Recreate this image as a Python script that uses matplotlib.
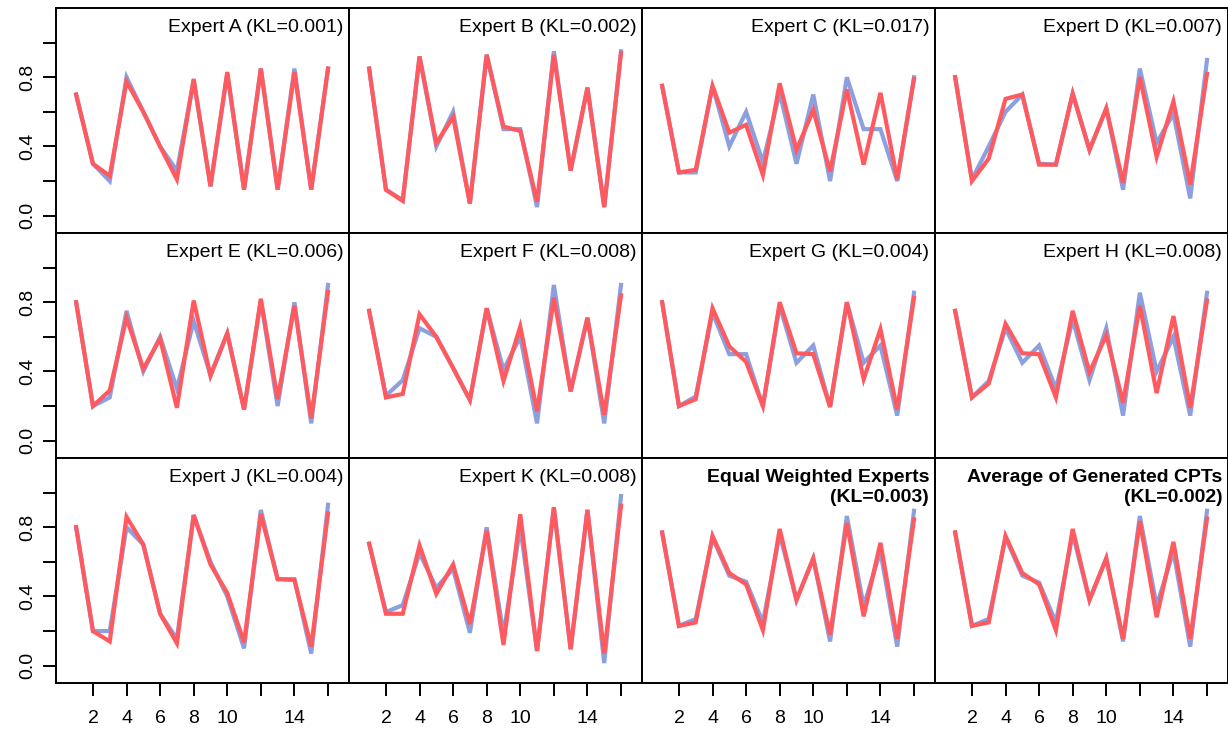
import matplotlib
matplotlib.use('Agg')
import matplotlib.pyplot as plt
import numpy as np

plt.rcParams['font.family'] = ['Liberation Sans', 'DejaVu Sans']

# CPT entries 1..16, expert value (blue) and generated value (red)
entries = np.arange(1, 17)

a_expert = [0.70, 0.30, 0.20, 0.80, 0.60, 0.40, 0.26, 0.78, 0.17, 0.82, 0.15, 0.85, 0.15, 0.85, 0.15, 0.85]
a_model = [0.70, 0.30, 0.23, 0.775, 0.60, 0.40, 0.21, 0.79, 0.17, 0.83, 0.15, 0.85, 0.15, 0.83, 0.15, 0.85]
b_expert = [0.85, 0.15, 0.09, 0.92, 0.40, 0.60, 0.07, 0.93, 0.50, 0.50, 0.05, 0.95, 0.26, 0.74, 0.05, 0.95]
b_model = [0.85, 0.15, 0.085, 0.92, 0.42, 0.57, 0.07, 0.93, 0.515, 0.49, 0.08, 0.93, 0.26, 0.74, 0.05, 0.94]
c_expert = [0.75, 0.25, 0.25, 0.75, 0.40, 0.60, 0.31, 0.71, 0.30, 0.70, 0.20, 0.80, 0.50, 0.50, 0.20, 0.80]
c_model = [0.75, 0.25, 0.265, 0.75, 0.48, 0.525, 0.235, 0.765, 0.38, 0.61, 0.255, 0.73, 0.295, 0.71, 0.21, 0.79]
d_expert = [0.80, 0.21, 0.40, 0.60, 0.70, 0.30, 0.295, 0.705, 0.38, 0.62, 0.15, 0.85, 0.42, 0.59, 0.10, 0.90]
d_model = [0.80, 0.20, 0.33, 0.675, 0.70, 0.295, 0.295, 0.705, 0.38, 0.62, 0.19, 0.80, 0.34, 0.66, 0.18, 0.82]
e_expert = [0.80, 0.20, 0.25, 0.75, 0.40, 0.60, 0.30, 0.69, 0.38, 0.62, 0.18, 0.81, 0.20, 0.80, 0.10, 0.90]
e_model = [0.80, 0.20, 0.29, 0.71, 0.415, 0.59, 0.19, 0.81, 0.375, 0.62, 0.18, 0.82, 0.24, 0.78, 0.13, 0.86]
f_expert = [0.75, 0.26, 0.35, 0.65, 0.60, 0.42, 0.235, 0.765, 0.41, 0.60, 0.10, 0.90, 0.285, 0.71, 0.10, 0.90]
f_model = [0.75, 0.25, 0.27, 0.73, 0.60, 0.42, 0.235, 0.765, 0.345, 0.66, 0.17, 0.825, 0.285, 0.71, 0.15, 0.84]
g_expert = [0.80, 0.20, 0.255, 0.74, 0.50, 0.50, 0.20, 0.78, 0.45, 0.55, 0.195, 0.80, 0.45, 0.55, 0.145, 0.855]
g_model = [0.80, 0.20, 0.24, 0.765, 0.545, 0.455, 0.20, 0.80, 0.505, 0.50, 0.195, 0.80, 0.355, 0.645, 0.18, 0.825]
h_expert = [0.75, 0.25, 0.345, 0.65, 0.45, 0.55, 0.30, 0.70, 0.35, 0.65, 0.145, 0.855, 0.40, 0.60, 0.145, 0.855]
h_model = [0.75, 0.25, 0.33, 0.675, 0.505, 0.50, 0.25, 0.75, 0.395, 0.61, 0.22, 0.78, 0.275, 0.72, 0.19, 0.81]
j_expert = [0.80, 0.20, 0.20, 0.80, 0.70, 0.30, 0.155, 0.87, 0.60, 0.40, 0.10, 0.90, 0.50, 0.50, 0.07, 0.93]
j_model = [0.80, 0.20, 0.14, 0.86, 0.70, 0.30, 0.13, 0.87, 0.585, 0.42, 0.135, 0.875, 0.50, 0.495, 0.11, 0.88]
k_expert = [0.705, 0.31, 0.35, 0.65, 0.45, 0.56, 0.19, 0.80, 0.18, 0.80, 0.085, 0.915, 0.095, 0.90, 0.015, 0.98]
k_model = [0.705, 0.30, 0.30, 0.695, 0.415, 0.585, 0.24, 0.78, 0.12, 0.875, 0.085, 0.915, 0.095, 0.90, 0.07, 0.925]
equal_expert = [0.77, 0.23, 0.27, 0.74, 0.52, 0.485, 0.25, 0.76, 0.38, 0.62, 0.14, 0.865, 0.345, 0.66, 0.11, 0.895]
equal_model = [0.77, 0.23, 0.25, 0.75, 0.535, 0.47, 0.205, 0.79, 0.38, 0.62, 0.18, 0.825, 0.285, 0.71, 0.155, 0.845]
avg_expert = [0.77, 0.23, 0.27, 0.74, 0.52, 0.48, 0.25, 0.76, 0.38, 0.62, 0.14, 0.865, 0.345, 0.66, 0.11, 0.895]
avg_model = [0.77, 0.23, 0.25, 0.75, 0.535, 0.47, 0.205, 0.79, 0.38, 0.62, 0.155, 0.835, 0.28, 0.715, 0.155, 0.85]

titles = ['Expert A (KL=0.001)', 'Expert B (KL=0.002)', 'Expert C (KL=0.017)', 'Expert D (KL=0.007)',
          'Expert E (KL=0.006)', 'Expert F (KL=0.008)', 'Expert G (KL=0.004)', 'Expert H (KL=0.008)',
          'Expert J (KL=0.004)', 'Expert K (KL=0.008)',
          'Equal Weighted Experts\n(KL=0.003)', 'Average of Generated CPTs\n(KL=0.002)']

panels = [(a_expert, a_model), (b_expert, b_model), (c_expert, c_model), (d_expert, d_model),
          (e_expert, e_model), (f_expert, f_model), (g_expert, g_model), (h_expert, h_model),
          (j_expert, j_model), (k_expert, k_model), (equal_expert, equal_model), (avg_expert, avg_model)]

W, H = 1228, 730
fig = plt.figure(figsize=(W / 100, H / 100), dpi=100)

left0, col_w = 56, 293
top0, row_h = 8, 225

for i, (expert, model) in enumerate(panels):
    r, c = divmod(i, 4)
    x0 = left0 + c * col_w
    y0 = H - (top0 + (r + 1) * row_h)
    ax = fig.add_axes([x0 / W, y0 / H, col_w / W, row_h / H])
    ax.plot(entries, expert, color='#8c9fdf', lw=3.0, solid_joinstyle='miter')
    ax.plot(entries, model, color='#ff5a5f', lw=3.0, solid_joinstyle='miter')
    ax.set_xlim(-0.2, 17.25)
    ax.set_ylim(-0.1, 1.2)
    for s in ax.spines.values():
        s.set_linewidth(1.4)

    bold = i >= 10
    ax.text(0.98, 0.95, titles[i], transform=ax.transAxes, ha='right', va='top',
            fontsize=14, fontweight='bold' if bold else 'normal', linespacing=1.25)

    ax.tick_params(length=9.5, width=1.4, labelsize=14)
    if c == 0:
        ax.set_yticks([0, 0.2, 0.4, 0.6, 0.8, 1.0])
        ax.set_yticklabels(['0.0', '', '0.4', '', '0.8', ''], rotation=90, va='center')
        ax.tick_params(axis='y', pad=5)
    else:
        ax.set_yticks([])
    if r == 2:
        ax.set_xticks([2, 4, 6, 8, 10, 12, 14, 16])
        ax.set_xticklabels(['2', '4', '6', '8', '10', '', '14', ''])
        ax.tick_params(axis='x', pad=10)
    else:
        ax.set_xticks([])

fig.savefig('out.png', dpi=100)
